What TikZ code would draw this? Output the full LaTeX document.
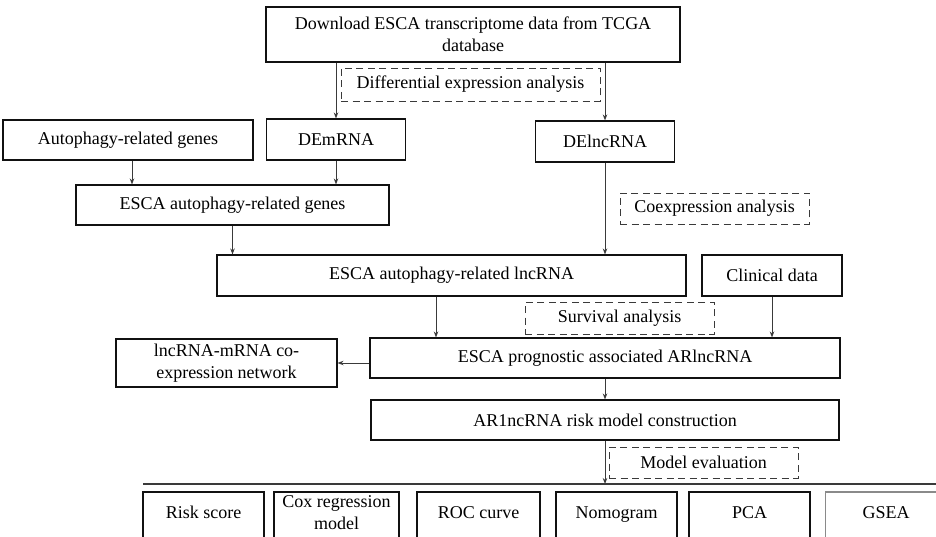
\documentclass[tikz,border=0pt]{standalone}
\usepackage{fontspec}
\setmainfont{Liberation Serif}
\usepackage{tikz}
\usetikzlibrary{arrows.meta,positioning,calc}
\definecolor{fline}{HTML}{111111}
\definecolor{farr}{HTML}{3A3A3A}
\definecolor{fgrey}{HTML}{8A8A8A}
\newcommand{\flowfont}{\fontsize{18}{22.5}\selectfont}
\newcommand{\evtext}[1]{\raisebox{4pt}[\height][\depth]{\begin{tabular}{@{}c@{}}#1\end{tabular}}}
\tikzset{
  box/.style={draw=fline,fill=white,line width=1.1pt,align=center,font=\flowfont,inner sep=2pt},
  dbox/.style={draw=farr,dash pattern=on 7pt off 4.5pt,line width=0.9pt,align=center,font=\flowfont,inner sep=2pt},
  evbox/.style={box,minimum height=52pt},
  arr/.style={-{Stealth[length=6pt,width=4.5pt]},line width=0.9pt,draw=farr},
  sep/.style={line width=1.1pt,draw=farr},
}
\begin{document}
\begin{tikzpicture}[x=1pt,y=-1pt]
  \useasboundingbox (0,0) rectangle (936,537);
  % data sources
  \node[box,minimum width=414pt,minimum height=55pt] (tcga) at (473,34.5) {Download ESCA transcriptome data from TCGA\\database};
  \node[dbox,minimum width=259pt,minimum height=33pt] (dea) at (470.5,84.5) {Differential expression analysis};
  \node[box,minimum width=250pt,minimum height=40pt] (argenes) at (128,140) {Autophagy-related genes};
  \node[box,minimum width=139pt,minimum height=41pt] (demrna) at (336,139.5) {DEmRNA};
  \node[box,minimum width=139pt,minimum height=41pt] (delnc) at (605,141.5) {DElncRNA};
  % autophagy genes and lncRNA
  \node[box,minimum width=313pt,minimum height=40pt] (escagenes) at (232.5,205) {ESCA autophagy-related genes};
  \node[dbox,minimum width=189pt,minimum height=31pt] (coex) at (714.5,208.5) {Coexpression analysis};
  \node[box,minimum width=469pt,minimum height=41pt] (escalnc) at (451.5,275.5) {ESCA autophagy-related lncRNA};
  \node[box,minimum width=140pt,minimum height=41pt] (clin) at (772,275.5) {Clinical data};
  \node[dbox,minimum width=189pt,minimum height=32pt] (surv) at (619.5,318) {Survival analysis};
  % prognostic model
  \node[box,minimum width=221pt,minimum height=48pt] (net) at (226.5,363) {lncRNA-mRNA co-\\expression network};
  \node[box,minimum width=470pt,minimum height=40pt] (prog) at (605,358) {ESCA prognostic associated ARlncRNA};
  \node[box,minimum width=468pt,minimum height=40pt] (riskm) at (605,420) {AR1ncRNA risk model construction};
  \node[dbox,minimum width=189pt,minimum height=31pt] (meval) at (703.5,462.5) {Model evaluation};
  % evaluation row
  \coordinate (sepL) at (143,484);
  \coordinate (sepR) at (940,484);
  \draw[sep] (sepL) -- (sepR);
  \foreach \t/\cx/\w [count=\ix] in {
    {Risk score}/203.5/121,
    {Cox regression\\model}/336.5/125,
    {ROC curve}/478.5/123,
    {Nomogram}/616.5/121,
    {PCA}/749.5/121} {
    \node[evbox,minimum width=\w pt] (ev\ix) at (\cx,518) {\evtext{\t}};
  }
  \node[evbox,draw=fgrey,minimum width=121pt] (ev6) at (886,518) {\evtext{GSEA}};
  % connectors
  \draw[arr] (tcga.south -| demrna.north) -- (demrna.north);
  \draw[arr] (tcga.south -| delnc.north) -- (delnc.north);
  \draw[arr] (argenes.south -| 132,0) -- (escagenes.north -| 132,0);
  \draw[arr] (demrna.south) -- (demrna.south |- escagenes.north);
  \draw[arr] (escagenes.south) -- (escagenes.south |- escalnc.north);
  \draw[arr] (delnc.south) -- (delnc.south |- escalnc.north);
  \draw[arr] (escalnc.south -| 436,0) -- (prog.north -| 436,0);
  \draw[arr] (clin.south) -- (clin.south |- prog.north);
  \draw[arr] (prog.west |- net.east) -- (net.east);
  \draw[arr] (prog.south) -- (riskm.north);
  \draw[arr] (riskm.south) -- (riskm.south |- sepL);
\end{tikzpicture}
\end{document}
